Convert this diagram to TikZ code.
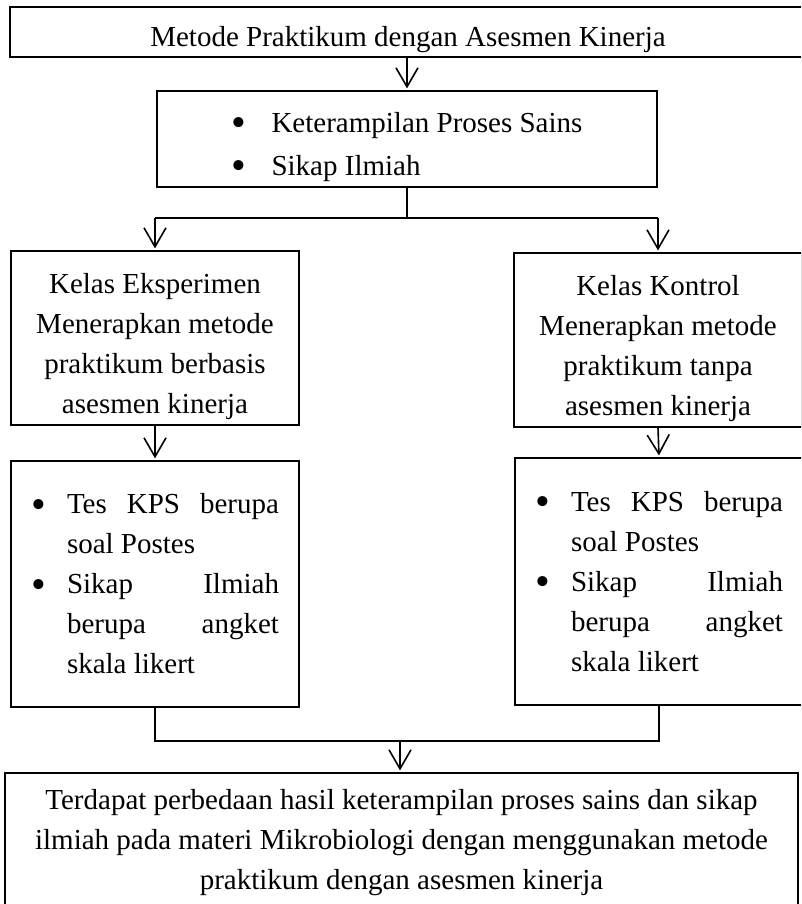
\documentclass[tikz,border=0pt]{standalone}
\usepackage{fontspec}
\setmainfont{Liberation Serif}
\usetikzlibrary{arrows.meta}
\newcommand{\bigdot}{\smash{\raisebox{-0.15em}{\scalebox{1.45}{\textbullet}}}}
\newcommand{\dropped}[2][c]{\raisebox{-7pt}[\height][\depth]{\begin{tabular}{@{}#1@{}}#2\end{tabular}}}
\begin{document}
\begin{tikzpicture}[x=1pt,y=-1pt,
  every node/.style={font=\fontsize{29}{40}\selectfont},
  box/.style={draw,line width=1.2pt,inner sep=0pt},
  arr/.style={-{Straight Barb[length=19pt,width=22pt]},line width=1.6pt,shorten >=2pt},
  link/.style={line width=1.6pt}]
\useasboundingbox (0,0) rectangle (801,904);
\clip (0,0) rectangle (801,904);

\node[box,minimum width=796,minimum height=50] (metode) at (408,32) {\dropped{Metode Praktikum dengan Asesmen Kinerja}};
\node[box,minimum width=500,minimum height=96] (variabel) at (407,139)
  {\dropped[l]{\makebox[40pt][l]{\bigdot}Keterampilan Proses Sains\\[3pt]\makebox[40pt][l]{\bigdot}Sikap Ilmiah}};

\node[box,minimum width=288,minimum height=174] (eksperimen) at (155,338)
  {\dropped{Kelas Eksperimen\\Menerapkan metode\\praktikum berbasis\\asesmen kinerja}};
\node[box,minimum width=288,minimum height=174] (kontrol) at (658,340)
  {\dropped{Kelas Kontrol\\Menerapkan metode\\praktikum tanpa\\asesmen kinerja}};

\node[box,minimum width=288,minimum height=246,align=left] (tesA) at (155,584)
  {\makebox[36pt][l]{\bigdot}\makebox[212pt][s]{Tes KPS berupa}\\
   \hspace*{36pt}soal Postes\\
   \makebox[36pt][l]{\bigdot}\makebox[212pt][s]{Sikap Ilmiah}\\
   \hspace*{36pt}\makebox[212pt][s]{berupa angket}\\
   \hspace*{36pt}skala likert};
\node[box,minimum width=288,minimum height=247,align=left] (tesB) at (659,581.5)
  {\makebox[36pt][l]{\bigdot}\makebox[212pt][s]{Tes KPS berupa}\\
   \hspace*{36pt}soal Postes\\
   \makebox[36pt][l]{\bigdot}\makebox[212pt][s]{Sikap Ilmiah}\\
   \hspace*{36pt}\makebox[212pt][s]{berupa angket}\\
   \hspace*{36pt}skala likert};

\node[box,minimum width=793,minimum height=140,align=center] (kesimpulan) at (401.5,843)
  {Terdapat perbedaan hasil keterampilan proses sains dan sikap\\
   ilmiah pada materi Mikrobiologi dengan menggunakan metode\\
   praktikum dengan asesmen kinerja};

\coordinate (split) at (407,218);
\coordinate (merge) at (400,741);

\draw[arr] (variabel.north |- metode.south) -- (variabel.north);
\draw[link] (variabel.south) -- (split);
\draw[link] (eksperimen.north |- split) -- (kontrol.north |- split);
\draw[arr] (eksperimen.north |- split) -- (eksperimen.north);
\draw[arr] (kontrol.north |- split) -- (kontrol.north);

\draw[arr] (eksperimen.south) -- (tesA.north);
\draw[arr] (kontrol.south) -- (tesB.north);

\draw[link] (tesA.south) -- (tesA.south |- merge) -- (tesB.south |- merge) -- (tesB.south);
\draw[arr] (merge) -- (merge |- kesimpulan.north);
\end{tikzpicture}
\end{document}
